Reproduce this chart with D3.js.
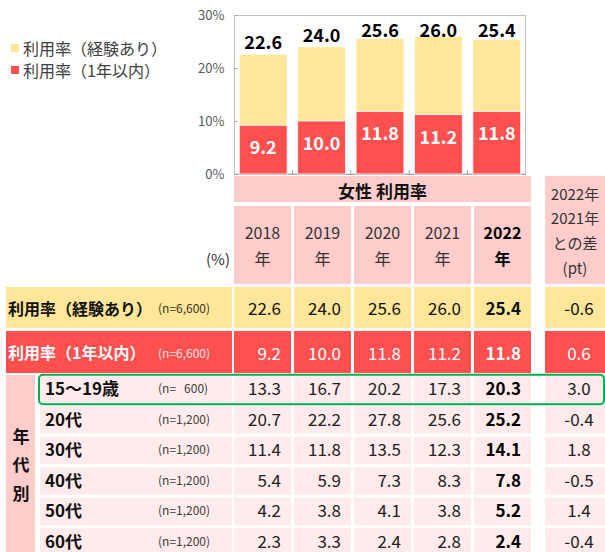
<!DOCTYPE html>
<html>
<head>
<meta charset="utf-8">
<script src="https://cdn.jsdelivr.net/npm/d3@7"></script>
<style>
  body { margin: 0; background: #fff; }
  svg { display: block; font-family: "Noto Sans CJK JP", "Noto Sans", sans-serif; }
</style>
</head>
<body>
<div id="chart_div"></div>
<script>
// data
const years = ["2018", "2019", "2020", "2021", "2022"];
const experienced = [22.6, 24.0, 25.6, 26.0, 25.4];
const withinYear = [9.2, 10.0, 11.8, 11.2, 11.8];
const experiencedDiff = -0.6;
const withinYearDiff = 0.6;
const yTicks = [0, 10, 20, 30];

const ageGroups = ["15〜19歳", "20代", "30代", "40代", "50代", "60代"];
const ageN = ["(n=   600)", "(n=1,200)", "(n=1,200)", "(n=1,200)", "(n=1,200)", "(n=1,200)"];
const age15to19 = [13.3, 16.7, 20.2, 17.3, 20.3];
const age20s = [20.7, 22.2, 27.8, 25.6, 25.2];
const age30s = [11.4, 11.8, 13.5, 12.3, 14.1];
const age40s = [5.4, 5.9, 7.3, 8.3, 7.8];
const age50s = [4.2, 3.8, 4.1, 3.8, 5.2];
const age60s = [2.3, 3.3, 2.4, 2.8, 2.4];
const ageDiff = [3.0, -0.4, 1.8, -0.5, 1.4, -0.4];
const ageRates = [age15to19, age20s, age30s, age40s, age50s, age60s];

const width = 605;
const height = 552;
const yellow = "#FFE699";
const red = "#FF5050";
const pink = "#FFCCCC";
const lightPink = "#FFEBEB";

const svg = d3.select("#chart_div")
    .append("svg")
    .attr("width", width)
    .attr("height", height);

// ---- chart ----
const x = d3.scaleBand()
    .domain(years)
    .range([234, 526])
    .paddingInner(0.18)
    .paddingOuter(0.09);

const y = d3.scaleLinear()
    .domain([0, 30])
    .range([174, 15]);

// frame
svg.append("rect")
    .attr("x", 234.5).attr("y", 15.5)
    .attr("width", 291).attr("height", 158.5)
    .attr("fill", "none")
    .attr("stroke", "#BFBFBF");

const yAxis = svg.append("g")
    .attr("transform", "translate(234.5,0)")
    .call(d3.axisLeft(y).tickValues(yTicks).tickFormat(d => d + "%").tickSizeInner(-3).tickSizeOuter(0).tickPadding(10));
yAxis.select(".domain").remove();
yAxis.selectAll("line").attr("stroke", "#A6A6A6");
yAxis.selectAll("text")
    .attr("fill", "#595959")
    .style("font-size", "13px")
    .style("font-family", "'Noto Sans CJK JP'");

// bottom axis line + category ticks
svg.append("line")
    .attr("x1", 234).attr("x2", 526)
    .attr("y1", 174.5).attr("y2", 174.5)
    .attr("stroke", "#A6A6A6");
svg.append("g")
    .selectAll("line")
    .data(years.slice(0, -1))
    .join("line")
    .attr("x1", d => x(d) + x.bandwidth() + (x.step() - x.bandwidth()) / 2)
    .attr("x2", d => x(d) + x.bandwidth() + (x.step() - x.bandwidth()) / 2)
    .attr("y1", 170).attr("y2", 174)
    .attr("stroke", "#A6A6A6");

// stacked bars
const bars = svg.append("g");
bars.selectAll(".exp")
    .data(years)
    .join("rect")
    .attr("class", "exp")
    .attr("x", d => x(d))
    .attr("y", (d, i) => y(experienced[i]))
    .attr("width", x.bandwidth())
    .attr("height", (d, i) => y(withinYear[i]) - y(experienced[i]))
    .attr("fill", yellow)
    .attr("stroke", "#fff")
    .attr("stroke-width", 0.8);

bars.selectAll(".within")
    .data(years)
    .join("rect")
    .attr("class", "within")
    .attr("x", d => x(d))
    .attr("y", (d, i) => y(withinYear[i]))
    .attr("width", x.bandwidth())
    .attr("height", (d, i) => y(0) - y(withinYear[i]))
    .attr("fill", red)
    .attr("stroke", "#fff")
    .attr("stroke-width", 0.8);

// labels
svg.append("g")
    .selectAll("text")
    .data(years)
    .join("text")
    .attr("x", d => x(d) + x.bandwidth() / 2)
    .attr("y", (d, i) => Math.max(y(experienced[i]) - 13, 29))
    .attr("text-anchor", "middle")
    .attr("dominant-baseline", "central")
    .attr("font-size", 18)
    .attr("font-weight", "bold")
    .attr("fill", "#000")
    .text((d, i) => experienced[i].toFixed(1));

svg.append("g")
    .selectAll("text")
    .data(years)
    .join("text")
    .attr("x", d => x(d) + x.bandwidth() / 2)
    .attr("y", (d, i) => y(withinYear[i]) + 21)
    .attr("text-anchor", "middle")
    .attr("dominant-baseline", "central")
    .attr("font-size", 18)
    .attr("font-weight", "bold")
    .attr("fill", "#fff")
    .text((d, i) => withinYear[i].toFixed(1));

// legend
const legend = svg.append("g");
[["利用率（経験あり）", yellow, 48], ["利用率（1年以内）", red, 70]].forEach(([label, color, cy]) => {
    legend.append("rect")
        .attr("x", 11).attr("y", cy - 4)
        .attr("width", 8).attr("height", 8)
        .attr("fill", color);
    legend.append("text")
        .attr("x", 23).attr("y", cy)
        .attr("dominant-baseline", "central")
        .attr("font-size", 16)
        .attr("fill", "#404040")
        .text(label);
});

// ---- table ----
const col = d3.scaleBand()
    .domain(years)
    .range([234, 531])
    .paddingInner(0.05)
    .paddingOuter(0);
const cw = col.bandwidth();
const diffX = 545, diffW = 60, diffCx = 579;
const numRight = d => col(d) + cw - 10;

// header
svg.append("rect")
    .attr("x", 234).attr("y", 176)
    .attr("width", 297).attr("height", 26)
    .attr("fill", pink);
svg.append("text")
    .attr("x", 382.5).attr("y", 190)
    .attr("text-anchor", "middle")
    .attr("dominant-baseline", "central")
    .attr("font-size", 17)
    .attr("font-weight", "bold")
    .attr("fill", "#111")
    .text("女性 利用率");

const yearHead = svg.append("g");
yearHead.selectAll("rect")
    .data(years)
    .join("rect")
    .attr("x", d => col(d)).attr("y", 206)
    .attr("width", cw).attr("height", 78)
    .attr("fill", pink);
yearHead.selectAll(".yr")
    .data(years)
    .join("text")
    .attr("class", "yr")
    .attr("x", d => col(d) + cw / 2).attr("y", 232)
    .attr("text-anchor", "middle")
    .attr("dominant-baseline", "central")
    .attr("font-size", 16)
    .attr("font-weight", (d, i) => i === years.length - 1 ? "bold" : "normal")
    .attr("fill", (d, i) => i === years.length - 1 ? "#000" : "#333")
    .text(d => d);
yearHead.selectAll(".nen")
    .data(years)
    .join("text")
    .attr("class", "nen")
    .attr("x", d => col(d) + cw / 2).attr("y", 258)
    .attr("text-anchor", "middle")
    .attr("dominant-baseline", "central")
    .attr("font-size", 16)
    .attr("font-weight", (d, i) => i === years.length - 1 ? "bold" : "normal")
    .attr("fill", (d, i) => i === years.length - 1 ? "#000" : "#333")
    .text("年");

svg.append("text")
    .attr("x", 230).attr("y", 258)
    .attr("text-anchor", "end")
    .attr("dominant-baseline", "central")
    .attr("font-size", 15)
    .attr("fill", "#333")
    .text("(%)");

svg.append("rect")
    .attr("x", diffX).attr("y", 176)
    .attr("width", diffW).attr("height", 108)
    .attr("fill", pink);
svg.append("g")
    .selectAll("text")
    .data(["2022年", "2021年", "との差", "(pt)"])
    .join("text")
    .attr("x", 575)
    .attr("y", (d, i) => 193 + i * 24.7)
    .attr("text-anchor", "middle")
    .attr("dominant-baseline", "central")
    .attr("font-size", 15)
    .attr("fill", "#333")
    .text(d => d);

// summary rows
function summaryRow(top, h, fill, textColor, label, n, values, diff) {
    const g = svg.append("g");
    g.append("rect")
        .attr("x", 6).attr("y", top)
        .attr("width", 226).attr("height", h)
        .attr("fill", fill);
    const cy = top + h / 2;
    g.append("text")
        .attr("x", 8).attr("y", cy)
        .attr("dominant-baseline", "central")
        .attr("font-size", 16)
        .attr("font-weight", "bold")
        .attr("fill", textColor)
        .text(label);
    g.append("text")
        .attr("x", 158).attr("y", cy)
        .attr("dominant-baseline", "central")
        .attr("font-size", 12)
        .attr("fill", textColor)
        .attr("opacity", 0.85)
        .text(n);
    g.selectAll(".cell")
        .data(years)
        .join("rect")
        .attr("class", "cell")
        .attr("x", d => col(d)).attr("y", top)
        .attr("width", cw).attr("height", h)
        .attr("fill", fill);
    g.selectAll(".num")
        .data(years)
        .join("text")
        .attr("class", "num")
        .attr("x", d => numRight(d)).attr("y", cy)
        .attr("text-anchor", "end")
        .attr("dominant-baseline", "central")
        .attr("font-size", 17)
        .attr("font-weight", (d, i) => i === years.length - 1 ? "bold" : "normal")
        .attr("fill", textColor)
        .text((d, i) => values[i].toFixed(1));
    g.append("rect")
        .attr("x", diffX).attr("y", top)
        .attr("width", diffW).attr("height", h)
        .attr("fill", fill);
    g.append("text")
        .attr("x", diffCx).attr("y", cy)
        .attr("text-anchor", "middle")
        .attr("dominant-baseline", "central")
        .attr("font-size", 17)
        .attr("fill", textColor)
        .text(diff.toFixed(1));
}
summaryRow(287, 41, yellow, "#111", "利用率（経験あり）", "(n=6,600)", experienced, experiencedDiff);
summaryRow(331, 42, red, "#fff", "利用率（1年以内）", "(n=6,600)", withinYear, withinYearDiff);

// age rows
svg.append("rect")
    .attr("x", 6).attr("y", 375)
    .attr("width", 29).attr("height", 177)
    .attr("fill", pink);
svg.append("g")
    .selectAll("text")
    .data(["年", "代", "別"])
    .join("text")
    .attr("x", 21)
    .attr("y", (d, i) => 435 + i * 28.5)
    .attr("text-anchor", "middle")
    .attr("dominant-baseline", "central")
    .attr("font-size", 17)
    .attr("font-weight", "bold")
    .attr("fill", "#111")
    .text(d => d);

const rowY = d3.scaleBand()
    .domain(ageGroups)
    .range([375.7, 375.7 + 30 * ageGroups.length])
    .paddingInner(0.1)
    .paddingOuter(0);
const rh = rowY.bandwidth();
const ty = rh / 2 - 1.5;

const ageRows = svg.append("g")
    .selectAll("g")
    .data(ageGroups)
    .join("g")
    .attr("transform", d => `translate(0,${rowY(d)})`);

ageRows.append("rect")
    .attr("x", 40).attr("width", 192).attr("height", rh)
    .attr("fill", lightPink);
ageRows.append("text")
    .attr("x", 45).attr("y", ty)
    .attr("dominant-baseline", "central")
    .attr("font-size", 17)
    .attr("font-weight", "bold")
    .attr("fill", "#111")
    .text(d => d);
ageRows.append("text")
    .attr("x", 158).attr("y", ty)
    .attr("dominant-baseline", "central")
    .attr("font-size", 12)
    .attr("fill", "#404040")
    .style("white-space", "pre")
    .text((d, i) => ageN[i]);
ageRows.append("rect")
    .attr("x", diffX).attr("width", diffW).attr("height", rh)
    .attr("fill", lightPink);
ageRows.append("text")
    .attr("x", diffCx).attr("y", ty)
    .attr("text-anchor", "middle")
    .attr("dominant-baseline", "central")
    .attr("font-size", 17)
    .attr("fill", "#222")
    .text((d, i) => ageDiff[i].toFixed(1));

ageRows.each(function (g, gi) {
    const row = d3.select(this);
    row.selectAll(".cell")
        .data(years)
        .join("rect")
        .attr("class", "cell")
        .attr("x", d => col(d)).attr("width", cw).attr("height", rh)
        .attr("fill", lightPink);
    row.selectAll(".num")
        .data(years)
        .join("text")
        .attr("class", "num")
        .attr("x", d => numRight(d)).attr("y", ty)
        .attr("text-anchor", "end")
        .attr("dominant-baseline", "central")
        .attr("font-size", 17)
        .attr("font-weight", (d, i) => i === years.length - 1 ? "bold" : "normal")
        .attr("fill", (d, i) => i === years.length - 1 ? "#000" : "#222")
        .text((d, i) => ageRates[gi][i].toFixed(1));
});

// highlight box on 15-19
svg.append("rect")
    .attr("x", 39).attr("y", rowY(ageGroups[0]) - 1)
    .attr("width", 565).attr("height", rh + 2)
    .attr("rx", 4)
    .attr("fill", "none")
    .attr("stroke", "#00B050")
    .attr("stroke-width", 2);
</script>
</body>
</html>
